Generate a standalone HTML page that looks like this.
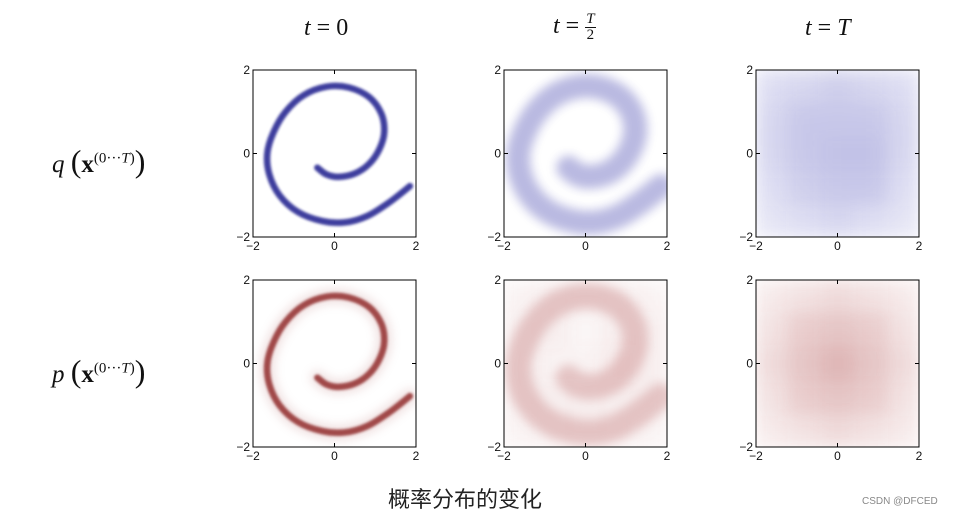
<!DOCTYPE html>
<html><head><meta charset="utf-8">
<style>
body{margin:0;background:#fff;width:975px;height:516px;overflow:hidden;position:relative;font-family:"Liberation Sans",sans-serif}
.math{position:absolute;font-family:"Liberation Serif",serif;font-size:24px;color:#111;white-space:nowrap}
.math i{font-style:italic}
.frac{display:inline-block;vertical-align:middle;text-align:center;font-size:15px;line-height:15px}
.frac span{display:block}
.frac .num{border-bottom:1px solid #111;padding:0 1px}
.cap{position:absolute;left:388px;top:482px;font-size:22px;font-family:"Liberation Sans","Noto Sans CJK SC",sans-serif;color:#222}
.wm{position:absolute;left:862px;top:496px;font-size:10px;color:#888}
</style></head><body>
<div class="math" style="left:304px;top:15px"><i>t</i> = 0</div>
<div class="math" style="left:553px;top:12px"><i>t</i> = <span class="frac"><span class="num"><i>T</i></span><span>2</span></span></div>
<div class="math" style="left:805px;top:15px"><i>t</i> = <i>T</i></div>
<div class="math" style="left:52px;top:143px;font-size:25px"><i>q</i> <span style="font-size:32px">(</span><b>x</b><sup style="font-size:15px">(0···<i>T</i>)</sup><span style="font-size:32px">)</span></div>
<div class="math" style="left:52px;top:353px;font-size:25px"><i>p</i> <span style="font-size:32px">(</span><b>x</b><sup style="font-size:15px">(0···<i>T</i>)</sup><span style="font-size:32px">)</span></div>
<div class="cap">概率分布的变化</div>
<div class="wm">CSDN @DFCED</div>
<svg id="chart" width="975" height="516" style="position:absolute;left:0;top:0">
<defs>
<filter id="b1" x="-20%" y="-20%" width="140%" height="140%"><feGaussianBlur stdDeviation="1.2"/></filter>
<filter id="b4" x="-20%" y="-20%" width="140%" height="140%"><feGaussianBlur stdDeviation="5"/></filter>
<filter id="b8" x="-20%" y="-20%" width="140%" height="140%"><feGaussianBlur stdDeviation="9"/></filter>
</defs>
</svg>
<script>
// spiral (data-space) read from the t=0 panel
const spiralX = [-0.42,-0.2,0.1,0.5,0.85,1.1,1.22,1.15,0.85,0.35,-0.2,-0.75,-1.2,-1.5,-1.65,-1.6,-1.35,-0.9,-0.3,0.25,0.8,1.3,1.6,1.85];
const spiralY = [-0.34,-0.5,-0.56,-0.48,-0.25,0.1,0.5,0.95,1.35,1.58,1.6,1.4,1.0,0.5,0,-0.5,-1.0,-1.4,-1.62,-1.65,-1.5,-1.2,-0.98,-0.78];
const tickValues = [-2,0,2];
const tickLabels = ["\u22122","0","2"];
const densityQT = [[0.5,0.6,0.7,0.6,0.5],[0.6,0.8,0.8,0.8,0.6],[0.6,0.8,0.9,0.9,0.6],[0.5,0.7,0.8,0.8,0.5],[0.4,0.5,0.6,0.5,0.4]];
const densityPT = [[0.3,0.4,0.5,0.4,0.3],[0.4,0.7,0.8,0.7,0.4],[0.5,0.8,1.0,0.8,0.5],[0.4,0.7,0.8,0.7,0.4],[0.3,0.4,0.5,0.4,0.3]];
const densityPHalf = [[0.3,0.4,0.4,0.4,0.3],[0.4,0.4,0.2,0.4,0.4],[0.4,0.3,0.3,0.5,0.4],[0.4,0.4,0.4,0.4,0.4],[0.3,0.4,0.4,0.4,0.3]];

const NS="http://www.w3.org/2000/svg";
const svg=document.getElementById('chart');
const colL=[253,504,756], rowT=[70,280], W=163, H=167;
function mk(tag,attrs,parent){const e=document.createElementNS(NS,tag);for(const k in attrs)e.setAttribute(k,attrs[k]);(parent||svg).appendChild(e);return e;}
function panel(ci,ri,name){
  const L=colL[ci],T=rowT[ri];
  const sx=x=>L+(x+2)/4*W, sy=y=>T+(2-y)/4*H;
  const g=mk('g',{});
  
  
  const cid='clip'+ci+ri;
  const cp=mk('clipPath',{id:cid},g);mk('rect',{x:L,y:T,width:W,height:H},cp);
  const plot=mk('g',{'clip-path':'url(#'+cid+')'},g);
  return {g,plot,sx,sy,L,T};
}
function spiralPath(p){
  const P=spiralX.map((x,i)=>[p.sx(x),p.sy(spiralY[i])]);
  let d='M'+P[0][0].toFixed(1)+','+P[0][1].toFixed(1);
  for(let i=0;i<P.length-1;i++){
    const p0=P[Math.max(0,i-1)],p1=P[i],p2=P[i+1],p3=P[Math.min(P.length-1,i+2)];
    const c1=[p1[0]+(p2[0]-p0[0])/6,p1[1]+(p2[1]-p0[1])/6];
    const c2=[p2[0]-(p3[0]-p1[0])/6,p2[1]-(p3[1]-p1[1])/6];
    d+=' C'+c1.map(v=>v.toFixed(1)).join(',')+' '+c2.map(v=>v.toFixed(1)).join(',')+' '+p2.map(v=>v.toFixed(1)).join(',');
  }
  return d;
}
function density(p,grid,color,alpha,name){
  const n=grid.length, cw=4/n;
  const dg=mk('g',{filter:'url(#b8)'},p.plot);
  
  
  grid.forEach((row,r)=>row.forEach((v,c)=>{
    const x0=-2+c*cw, y0=2-r*cw;
    const rc=mk('rect',{x:p.sx(x0),y:p.sy(y0),width:p.sx(x0+cw)-p.sx(x0)+0.5,height:p.sy(y0-cw)-p.sy(y0)+0.5,fill:color,opacity:(v*alpha).toFixed(3)},dg);
    
    
  }));
}
function axes(p){
  mk('rect',{x:p.L,y:p.T,width:W,height:H,fill:'none',stroke:'#000','stroke-width':1},p.g);
  tickValues.forEach((v,i)=>{
    const x=p.sx(v), y=p.sy(v);
    if(v===0){
      mk('line',{x1:x,y1:p.T,x2:x,y2:p.T+4,stroke:'#000'},p.g);
      mk('line',{x1:x,y1:p.T+H,x2:x,y2:p.T+H-4,stroke:'#000'},p.g);
      mk('line',{x1:p.L,y1:y,x2:p.L+4,y2:y,stroke:'#000'},p.g);
      mk('line',{x1:p.L+W,y1:y,x2:p.L+W-4,y2:y,stroke:'#000'},p.g);
    }
    const tx=mk('text',{x:x,y:p.T+H+13,'font-size':12,'text-anchor':'middle',fill:'#111','font-family':'Liberation Sans, sans-serif'},p.g);
    tx.textContent=tickLabels[i];
    
    
    const ty=mk('text',{x:p.L-3,y:y+4,'font-size':12,'text-anchor':'end',fill:'#111','font-family':'Liberation Sans, sans-serif'},p.g);
    ty.textContent=tickLabels[i];
    
    
  });
}
// q, t=0
let p=panel(0,0,'panel-q-t0');
let s=mk('path',{d:spiralPath(p),fill:'none',stroke:'#1c1c8c','stroke-width':6.5,'stroke-linecap':'round','stroke-linejoin':'round',opacity:0.85,filter:'url(#b1)'},p.plot);


axes(p);
// q, t=T/2
p=panel(1,0,'panel-q-thalf');
s=mk('path',{d:spiralPath(p),fill:'none',stroke:'#5a5ab8','stroke-width':24,'stroke-linecap':'round','stroke-linejoin':'round',opacity:0.42,filter:'url(#b4)'},p.plot);


axes(p);
// q, t=T
p=panel(2,0,'panel-q-tend');
density(p,densityQT,'#6a6ac4',0.45,'density-q-tend');
axes(p);
// p, t=0
p=panel(0,1,'panel-p-t0');
s=mk('path',{d:spiralPath(p),fill:'none',stroke:'#c08080','stroke-width':14,'stroke-linecap':'round','stroke-linejoin':'round',opacity:0.25,filter:'url(#b4)'},p.plot);


s=mk('path',{d:spiralPath(p),fill:'none',stroke:'#8c2424','stroke-width':6.5,'stroke-linecap':'round','stroke-linejoin':'round',opacity:0.8,filter:'url(#b1)'},p.plot);


axes(p);
// p, t=T/2
p=panel(1,1,'panel-p-thalf');
density(p,densityPHalf,'#c07070',0.3,'density-p-thalf');
s=mk('path',{d:spiralPath(p),fill:'none',stroke:'#b86060','stroke-width':26,'stroke-linecap':'round','stroke-linejoin':'round',opacity:0.3,filter:'url(#b4)'},p.plot);


axes(p);
// p, t=T
p=panel(2,1,'panel-p-tend');
density(p,densityPT,'#b86060',0.45,'density-p-tend');
axes(p);
</script>
</body></html>
